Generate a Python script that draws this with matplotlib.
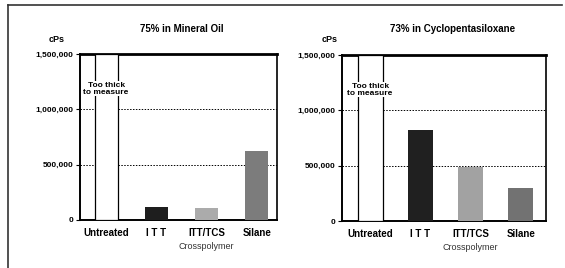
import numpy as np
import matplotlib.pyplot as plt
from matplotlib.lines import Line2D

plt.rcParams['font.family'] = ['Liberation Sans', 'DejaVu Sans']

# Données
categories = ['Untreated', 'I T T', 'ITT/TCS', 'Silane']
titres = ['75% in Mineral Oil', '73% in Cyclopentasiloxane']
huile_minerale = [None, 118000, 110000, 627000]
cyclopentasiloxane = [None, 818000, 490000, 300000]
echelle_max = 1500000
graduations = [0, 500000, 1000000, 1500000]
etiquettes_y = ['0', '500,000', '1,000,000', '1,500,000']
couleurs = [['white', '#1e1e1e', '#ababab', '#7c7c7c'],
            ['white', '#202020', '#a2a2a2', '#727272']]

fig = plt.figure(figsize=(5.65, 2.68), dpi=100)

# Cadre extérieur (haut et gauche)
fig.add_artist(Line2D([8/565, 562/565], [1-5/268, 1-5/268], color='#333333', lw=1.2))
fig.add_artist(Line2D([8/565, 8/565], [0, 1-5/268], color='#333333', lw=1.2))

positions = [[80/565, 1-220/268, 197/565, 166/268],
             [342/565, 1-221/268, 204/565, 166/268]]
limites_x = [(-0.52, 3.40), (-0.56, 3.50)]
largeurs = [0.46, 0.50]
x_titres = [182/565, 453/565]
x_cps = [57/565, 330/565]

for k, valeurs in enumerate([huile_minerale, cyclopentasiloxane]):
    ax = fig.add_axes(positions[k])
    x = np.arange(len(categories))
    hauteurs = [echelle_max if v is None else v for v in valeurs]
    for i in range(len(categories)):
        if valeurs[i] is None:
            ax.bar(x[i], hauteurs[i], largeurs[k], color='white',
                   edgecolor='black', linewidth=0.9, zorder=3)
            ax.text(x[i], echelle_max * 0.79, 'Too thick\nto measure',
                    ha='center', va='center', fontsize=6, fontweight='bold',
                    linespacing=1.0, zorder=4,
                    bbox=dict(facecolor='white', edgecolor='none', pad=0.3))
        else:
            ax.bar(x[i], hauteurs[i], largeurs[k], color=couleurs[k][i], zorder=3)

    ax.set_xlim(*limites_x[k])
    ax.set_ylim(0, echelle_max)
    ax.set_yticks(graduations)
    ax.set_yticklabels(etiquettes_y, fontsize=6, fontweight='bold')
    ax.set_xticks(x)
    ax.set_xticklabels(categories, fontsize=7, fontweight='bold')
    ax.tick_params(axis='x', length=0, pad=6)
    ax.tick_params(axis='y', length=3, width=0.8, pad=2)
    for g in [500000, 1000000]:
        ax.axhline(g, color='black', linestyle=(0, (1.5, 1.5)), linewidth=0.7, zorder=1)
    ax.spines['left'].set_linewidth(1.4)
    ax.spines['bottom'].set_linewidth(1.4)
    ax.spines['right'].set_linewidth(1.2)
    ax.spines['top'].set_linewidth(2.0)

    # Texte "Crosspolymer" sous ITT/TCS
    ax.text(2, -0.13, 'Crosspolymer', transform=ax.get_xaxis_transform(),
            ha='center', va='top', fontsize=6.5, color='#333333')

    fig.text(x_titres[k], 1-29/268, titres[k], ha='center', va='center',
             fontsize=7, fontweight='bold')
    fig.text(x_cps[k], 1-39/268, 'cPs', ha='center', va='center',
             fontsize=6.5, fontweight='bold')

plt.savefig('out.png', dpi=100)
plt.close()
